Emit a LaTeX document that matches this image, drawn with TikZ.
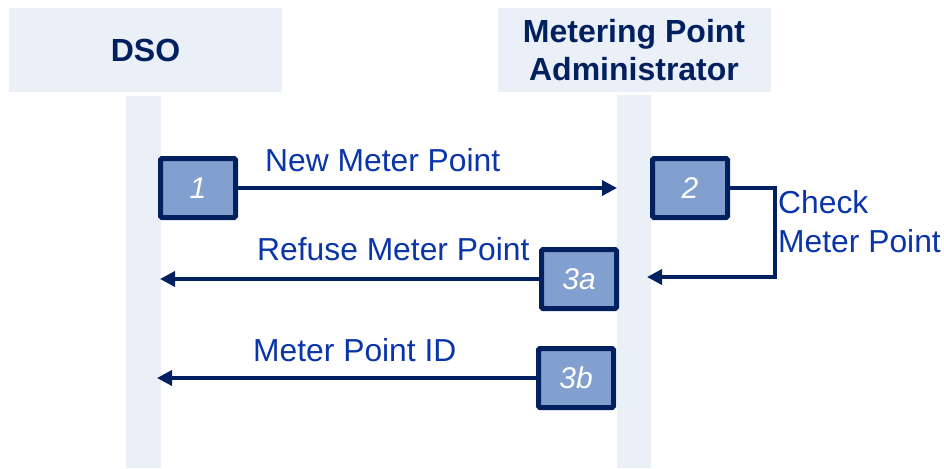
\documentclass[tikz,border=0pt]{standalone}
\usepackage{fontspec}
\setmainfont{Liberation Sans}
\usetikzlibrary{arrows.meta}
\definecolor{navy}{HTML}{00205F}
\definecolor{lane}{HTML}{EBF0F8}
\definecolor{stepfill}{HTML}{82A0CF}
\definecolor{msgblue}{HTML}{0A35A8}
\tikzset{
  header/.style={fill=lane, minimum width=273pt, minimum height=84pt, inner sep=0pt,
    text=navy, font=\fontsize{32}{38}\selectfont\bfseries, align=center},
  lifeline/.style={fill=lane},
  stepbox/.style={draw=navy, line width=5pt, fill=stepfill, rounded corners=1.5pt,
    minimum width=75pt, minimum height=59pt, inner sep=0pt,
    text=white, font=\fontsize{30}{30}\selectfont\itshape},
  msg/.style={draw=navy, line width=3.5pt, -{Triangle[length=15pt,width=15pt]}},
  label/.style={text=msgblue, font=\fontsize{31.8}{31.8}\selectfont, inner sep=0pt, anchor=base west}
}
\begin{document}
\begin{tikzpicture}[x=1pt,y=-1pt]
  \useasboundingbox (0,0) rectangle (944,468);
  % lifelines
  \fill[lifeline] (126,96) rectangle (161,468);
  \fill[lifeline] (617,95) rectangle (651,468);
  % role headers
  \node[header] (dso) at (145.5,50) {DSO};
  \node[header] (mpa) at (634,50) {Metering Point\\Administrator};
  % activity steps
  \node[stepbox] (s1) at (198,188) {1};
  \node[stepbox] (s2) at (690,188) {2};
  \node[stepbox] (s3a) at (579,279) {3a};
  \node[stepbox] (s3b) at (576,378) {3b};
  % message end points on the lifelines
  \coordinate (e1) at (617,188);
  \coordinate (turn) at (775,188);
  \coordinate (e2) at (647,277);
  \coordinate (e3a) at (160,279);
  \coordinate (e3b) at (157,378);
  % messages
  \draw[msg] (s1.east) -- (e1);
  \draw[msg] (s2.east) -- (turn) |- (e2);
  \draw[msg] (s3a.west) -- (e3a);
  \draw[msg] (s3b.west) -- (e3b);
  % message labels
  \node[label] (l1) at (265,171) {New Meter Point};
  \node[label] (l2a) at (778,213) {Check};
  \node[label] (l2b) at (778,252) {Meter Point};
  \node[label] (l3a) at (257,260) {Refuse Meter Point};
  \node[label] (l3b) at (253,361) {Meter Point ID};
\end{tikzpicture}
\end{document}
